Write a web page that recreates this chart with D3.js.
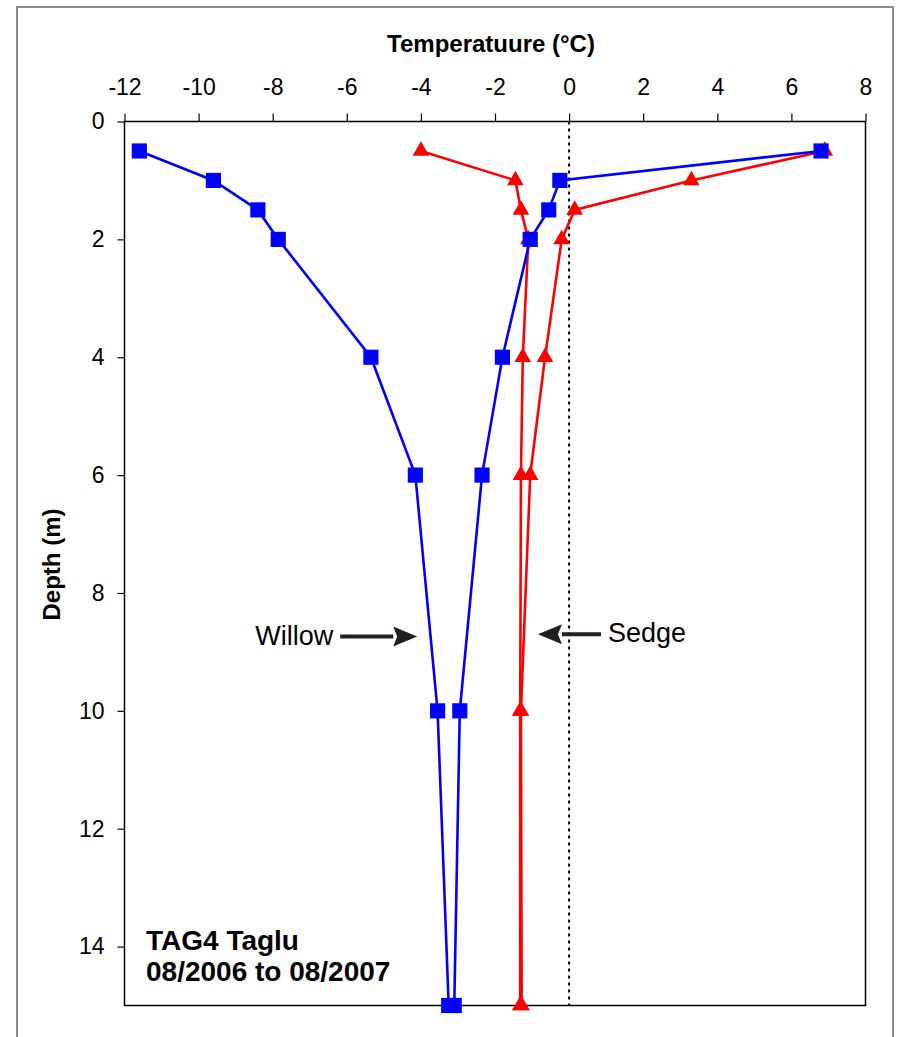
<!DOCTYPE html>
<html><head><meta charset="utf-8">
<script src="https://cdn.jsdelivr.net/npm/d3@7"></script>
<style>body{margin:0;background:#fff}svg{display:block}</style>
</head><body>
<svg id="c" width="905" height="1037"></svg>
<script>
const depths = [0.5, 1, 1.5, 2, 4, 6, 10, 15];
const willowMin = [-11.6, -9.6, -8.4, -7.85, -5.35, -4.15, -3.55, -3.25];
const willowMax = [6.8, -0.25, -0.55, -1.05, -1.8, -2.35, -2.95, -3.1];
const sedgeMin = [-4.0, -1.45, -1.3, -1.1, -1.25, -1.3, -1.32, -1.32];
const sedgeMax = [6.9, 3.3, 0.15, -0.2, -0.65, -1.05, -1.3, -1.28];
const xTicks = [-12, -10, -8, -6, -4, -2, 0, 2, 4, 6, 8];
const yTicks = [0, 2, 4, 6, 8, 10, 12, 14];
const labels = [
  {text: "Willow", tipX: -4.1, depth: 8.74, dir: 1, len: 77},
  {text: "Sedge", tipX: -0.84, depth: 8.7, dir: -1, len: 63}
];
const noteLines = ["TAG4 Taglu", "08/2006 to 08/2007"];

const svg = d3.select("#c");
const font = "Liberation Sans, Arial, sans-serif";
const m = {left: 124.5, right: 865.5, top: 121.5, bottom: 1005.5};
const x = d3.scaleLinear().domain([-12, 8]).range([m.left, m.right]);
const y = d3.scaleLinear().domain([0, 15]).range([m.top, m.bottom]);

// outer frame
svg.append("rect").attr("x", 17).attr("y", 7).attr("width", 876).attr("height", 1040)
  .attr("fill", "none").attr("stroke", "#8c8c8c").attr("stroke-width", 2);

// zero line
svg.append("line").attr("x1", x(0)).attr("x2", x(0)).attr("y1", y(0)).attr("y2", y(15))
  .attr("stroke", "#000").attr("stroke-width", 2).attr("stroke-dasharray", "3,4");

// axes
const xAxis = d3.axisTop(x).tickValues(xTicks).tickSize(8).tickPadding(19).tickFormat(d3.format("d"));
const gx = svg.append("g").attr("transform", `translate(0,${m.top})`).call(xAxis);
const yAxis = d3.axisLeft(y).tickValues(yTicks).tickSize(7).tickPadding(13).tickFormat(d3.format("d"));
const gy = svg.append("g").attr("transform", `translate(${m.left},0)`).call(yAxis);
[gx, gy].forEach(g => {
  g.select(".domain").remove();
  g.selectAll(".tick line").attr("stroke", "#000").attr("stroke-width", 1.2);
  g.selectAll(".tick text").attr("font-family", font).attr("font-size", 23).attr("fill", "#000");
});
gx.selectAll(".tick text").text(d => d < 0 ? "-" + Math.abs(d) : d);

// plot frame
svg.append("rect").attr("x", m.left).attr("y", m.top).attr("width", m.right - m.left).attr("height", m.bottom - m.top)
  .attr("fill", "none").attr("stroke", "#000").attr("stroke-width", 1.5);

// titles
svg.append("text").attr("x", 491).attr("y", 52).attr("text-anchor", "middle")
  .attr("font-family", font).attr("font-weight", "bold").attr("font-size", 24).text("Temperatuure (°C)");
svg.append("text").attr("transform", `translate(60,${y(7.5) + 1}) rotate(-90)`).attr("text-anchor", "middle")
  .attr("font-family", font).attr("font-weight", "bold").attr("font-size", 24).text("Depth (m)");

const line = d3.line().x(d => x(d[0])).y(d => y(d[1]));
function series(vals, color, shape) {
  const pts = vals.map((v, i) => [v, depths[i]]);
  svg.append("path").datum(pts).attr("d", line).attr("fill", "none").attr("stroke", color).attr("stroke-width", 2.6);
  const sym = d3.symbol().type(shape).size(shape === d3.symbolSquare ? 230 : 120);
  svg.append("g").selectAll("path").data(pts).join("path")
    .attr("transform", d => `translate(${x(d[0])},${y(d[1])})`)
    .attr("d", sym).attr("fill", color);
}
series(sedgeMin, "#ff0000", d3.symbolTriangle);
series(sedgeMax, "#ff0000", d3.symbolTriangle);
series(willowMin, "#0000ff", d3.symbolSquare);
series(willowMax, "#0000ff", d3.symbolSquare);

// annotations
labels.forEach(l => {
  const tx = x(l.tipX), ty = y(l.depth);
  const tail = tx - l.dir * l.len;
  const head = tx - l.dir * 24;
  svg.append("line").attr("x1", tail).attr("x2", head).attr("y1", ty).attr("y2", ty)
    .attr("stroke", "#231f20").attr("stroke-width", 4);
  svg.append("path").attr("d", `M${tx},${ty} L${head},${ty - 10} L${head + l.dir * 4},${ty} L${head},${ty + 10} Z`)
    .attr("fill", "#231f20");
  svg.append("text").attr("x", l.dir > 0 ? tail - 7 : tail + 7).attr("y", ty + 8)
    .attr("text-anchor", l.dir > 0 ? "end" : "start")
    .attr("font-family", font).attr("font-size", 27).text(l.text);
});

svg.append("g").selectAll("text").data(noteLines).join("text")
  .attr("x", 146).attr("y", (d, i) => 950 + i * 31)
  .attr("font-family", font).attr("font-weight", "bold").attr("font-size", 28).text(d => d);
</script>
</body></html>
